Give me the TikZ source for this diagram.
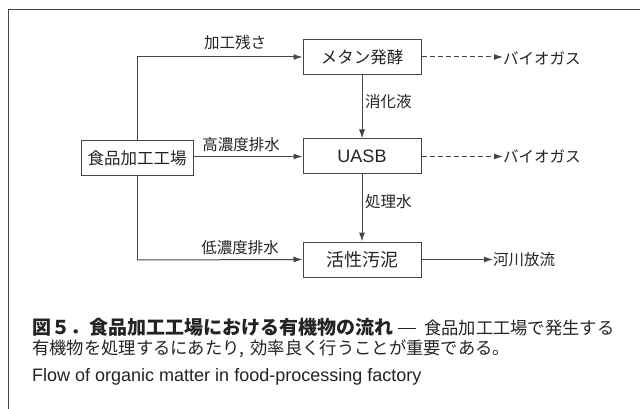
\documentclass[tikz,border=0pt]{standalone}
\usepackage{fontspec}
\setmainfont{Noto Sans CJK JP}
\newfontfamily\latf{Liberation Sans}
\usetikzlibrary{arrows.meta}
\definecolor{linec}{RGB}{70,70,70}
\definecolor{textc}{RGB}{35,35,35}
\begin{document}
\begin{tikzpicture}[x=1pt,y=-1pt,
  box/.style={draw=linec, line width=1pt, minimum width=118pt, minimum height=35pt, inner sep=0pt, text=textc, font=\fontsize{16.5}{18}\selectfont},
  lbl/.style={inner sep=0pt, text=textc, font=\fontsize{15.5}{17}\selectfont},
  arr/.style={draw=linec, line width=1pt, -{Latex[length=9pt,width=6pt]}},
  darr/.style={arr, dash pattern=on 5pt off 3pt},
  ln/.style={draw=linec, line width=1pt},
  captext/.style={inner sep=0pt, anchor=west, text=textc, font=\fontsize{17.3}{19}\selectfont}]
\useasboundingbox (0,0) rectangle (640,409);
\draw[draw=linec, line width=1pt] (640,10) -- (8,10) -- (8,409);
% nodes
\node[box] (meth) at (362,57) {メタン発酵};
\node[box] (uasb) at (362,156.5) {\latf\fontsize{18}{20}\selectfont UASB};
\node[box] (kas) at (362,259.5) {\fontsize{18}{20}\selectfont 活性汚泥};
\node[box, minimum width=112pt] (fac) at (137,158.5) {食品加工工場};
\node[lbl, anchor=west] (bg1) at (503,58) {バイオガス};
\node[lbl, anchor=west] (bg2) at (503,156) {バイオガス};
\node[lbl, anchor=west] (river) at (493,260) {河川放流};
\coordinate (top) at (137,57);
\coordinate (bot) at (137,260);
% connectors
\draw[ln] (fac.north) -- (top);
\draw[arr] (top) -- (meth.west);
\draw[arr] (fac.east |- uasb.west) -- (uasb.west);
\draw[ln] (fac.south) -- (bot);
\draw[arr] (bot) -- (kas.west);
\draw[arr] (meth.south) -- (uasb.north);
\draw[arr] (uasb.south) -- (kas.north);
\draw[darr] (meth.east) -- (bg1.west |- meth.east);
\draw[darr] (uasb.east) -- (bg2.west |- uasb.east);
\draw[arr] (kas.east) -- (river.west |- kas.east);
% labels
\node[lbl] (l1) at (235,43) {加工残さ};
\node[lbl] (l2) at (241,145) {高濃度排水};
\node[lbl] (l3) at (240,248) {低濃度排水};
\node[lbl, anchor=west] (l4) at (365,102) {消化液};
\node[lbl, anchor=west] (l5) at (365,202) {処理水};
% caption
\node[captext] (c1) at (32,327) {{\bfseries\fontsize{19}{20}\selectfont 図５．食品加工工場における有機物の流れ}\hspace{0.3em}\rule[0.33em]{18pt}{0.9pt}\hspace{0.45em}食品加工工場で発生する};
\node[captext] (c2) at (32,349) {有機物を処理するにあたり,\hspace{0.35em}効率良く行うことが重要である。};
\node[captext, font=\latf\fontsize{18}{20}\selectfont] (c3) at (32,377) {Flow of organic matter in food-processing factory};
\end{tikzpicture}
\end{document}
